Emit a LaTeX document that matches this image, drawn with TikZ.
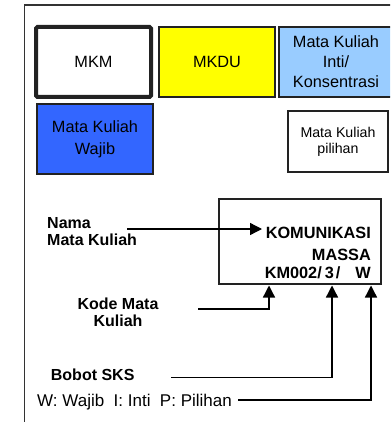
\documentclass[tikz,border=0pt]{standalone}
\usepackage{fontspec}
\setmainfont{Liberation Sans}
\usetikzlibrary{arrows.meta}
\definecolor{mkyellow}{HTML}{FFFF00}
\definecolor{mklight}{HTML}{99CCFF}
\definecolor{mkblue}{HTML}{3366FF}
\definecolor{edge}{HTML}{222222}
\begin{document}
\begin{tikzpicture}[x=1pt,y=-1pt,
  cbox/.style={draw=edge, line width=1.3pt, inner sep=0pt, align=center,
    font=\fontsize{16.3}{20}\selectfont},
  btxt/.style={inner sep=0pt, anchor=base east, font=\fontsize{16.3}{18}\selectfont\bfseries},
  lbl/.style={inner sep=0pt, font=\fontsize{16}{16.5}\selectfont\bfseries},
  arr/.style={draw=black, line width=1.3pt, -{Triangle[length=12pt,width=12pt]}},
]
\useasboundingbox (0,0) rectangle (390,422);
\clip (0,0) rectangle (390,422);
\fill[white] (0,0) rectangle (390,422);
% outer frame (cut at right and bottom)
\draw[line width=1.1pt, draw=black!80] (24.5,440) -- (24.5,5) -- (420,5);

% legend boxes
\node[cbox, line width=4pt, rounded corners=1.5pt, minimum width=115pt, minimum height=70pt] (mkm) at (93.5,62) {MKM};
\node[cbox, fill=mkyellow, minimum width=116pt, minimum height=70pt] (mkdu) at (217,62) {MKDU};
\node[cbox, fill=mklight, minimum width=114pt, minimum height=70pt] (inti) at (336,62) {Mata Kuliah\\Inti/\\Konsentrasi};
\node[cbox, fill=mkblue, minimum width=116pt, minimum height=70pt, font=\fontsize{16.3}{22}\selectfont] (wajib) at (95,139) {Mata Kuliah\\Wajib};
\node[cbox, minimum width=100pt, minimum height=61pt, font=\fontsize{14.2}{16}\selectfont] (pilihan) at (338,141.5) {Mata Kuliah\\pilihan};

% course box
\node[draw=edge, line width=2.7pt, inner sep=0pt, minimum width=162pt, minimum height=85pt] (course) at (300,241.5) {};
\node[btxt] (k1) at (371,238) {KOMUNIKASI};
\node[btxt] (k2) at (371,260) {MASSA};
\node[btxt] (k3) at (371,278) {KM002/\hspace{3pt}3\hspace{2pt}/\hspace{15pt}W};

% labels (base anchor = baseline of the last line)
\node[lbl, anchor=base west, align=left] (nama) at (47,245) {Nama\\Mata Kuliah};
\node[lbl, anchor=base, align=center] (kode) at (118,326) {Kode Mata\\Kuliah};
\node[lbl, anchor=base west] (bobot) at (50.7,380) {Bobot SKS};
\node[inner sep=0pt, anchor=base west, font=\fontsize{17}{18}\selectfont] (legend) at (37,406) {W:\ Wajib\ \ I:\ Inti\ \ P:\ Pilihan};

% connector ends
\coordinate (nstart) at (127,229);
\coordinate (ntip) at (262,229);
\coordinate (kstart) at (198,309);
\coordinate (ktip) at (269,285.5);
\coordinate (bstart) at (171,377.5);
\coordinate (btip) at (332,285.5);
\coordinate (wstart) at (238,400);
\coordinate (wtip) at (371,285.5);

\draw[arr] (nstart) -- (ntip);
\draw[arr] (kstart) -| (ktip);
\draw[arr] (bstart) -| (btip);
\draw[arr] (wstart) -| (wtip);
\end{tikzpicture}
\end{document}
